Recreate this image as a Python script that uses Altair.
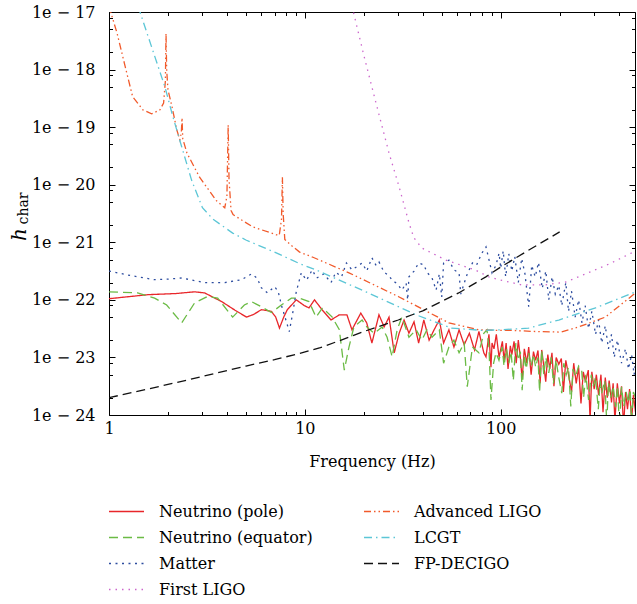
import altair as alt
import pandas as pd

FONT = "DejaVu Serif"
W, H = 526, 403

# ---- data: (frequency Hz, log10 h_char) ----
POLE = [(1.0, -21.98), (1.58, -21.91), (2.2, -21.89), (2.74, -21.86), (3.08, -21.88), (3.76, -22.03),
        (4.4, -22.18), (5.04, -22.30), (5.5, -22.25), (6.0, -22.17), (6.75, -22.20), (7.1, -22.30),
        (7.42, -22.49), (7.8, -22.30), (8.14, -22.17), (9.04, -22.00), (9.94, -22.10), (10.5, -22.14),
        (11.2, -22.00), (12.3, -22.18), (13.6, -22.35), (15.0, -22.26), (16.4, -22.26), (17.4, -22.52),
        (19.3, -22.23), (20.7, -22.40), (22.0, -22.75), (23.9, -22.26), (25.4, -22.47), (26.9, -22.30),
        (28.6, -22.92), (30.3, -22.58), (32.1, -22.35), (34.0, -22.58), (36.1, -22.38), (38.1, -22.75),
        (40.5, -22.35), (43.1, -22.70), (45.7, -22.52), (48.6, -22.35), (51.1, -22.75), (54.4, -22.52),
        (57.7, -22.82), (61.3, -22.52), (65.1, -22.78), (69.2, -22.58), (73.5, -22.87), (77.4, -22.55),
        (82.0, -22.92), (84.1, -22.99), (87.1, -22.60), (89.2, -23.17), (90.3, -22.75), (92.4, -22.85),
        (95.0, -22.60), (98.1, -23.00), (102, -22.72), (104, -23.05), (106.6, -22.75), (109, -23.20),
        (112, -22.80), (114, -22.95), (117, -22.72), (120, -23.10), (123, -22.70), (126, -23.00),
        (128.7, -23.38), (132, -22.85), (136, -23.10), (139, -22.82), (143, -23.30), (147, -22.90),
        (150.8, -23.05), (155, -22.88), (159, -23.45), (162, -22.87), (166, -23.15), (169.8, -23.42),
        (174, -22.95), (178, -23.20), (182.7, -22.92), (187, -23.50), (192, -23.00), (198, -23.12),
        (204, -23.02), (209, -23.60), (215, -23.05), (222, -23.30), (230, -23.60), (236, -23.10),
        (243, -23.45), (250, -23.17), (257, -23.80), (264, -23.25), (271, -23.42), (280, -23.22),
        (286, -24.10), (292, -23.25), (300, -23.55), (308, -23.30), (316, -23.65), (325, -23.30),
        (333, -23.95), (342, -23.35), (350, -23.70), (358, -23.40), (368, -23.78), (375, -23.45),
        (383, -24.10), (394, -23.45), (404, -23.80), (414, -23.50), (424, -24.20), (434, -23.60),
        (444, -23.90), (455, -23.55), (466, -24.10), (476, -23.65), (488, -23.95)]

EQUATOR = [(1.0, -21.86), (1.4, -21.88), (1.71, -21.97), (1.97, -22.09), (2.35, -22.40), (2.74, -22.05),
           (3.19, -21.94), (3.59, -21.97), (4.28, -22.30), (4.91, -22.09), (5.34, -22.03), (6.0, -22.12),
           (6.75, -22.22), (7.59, -22.09), (8.53, -21.97), (9.37, -21.97), (10.5, -22.03), (11.4, -22.30),
           (12.3, -22.14), (13.8, -22.30), (15.0, -22.52), (15.9, -23.22), (16.8, -22.82), (17.8, -22.47),
           (19.6, -22.35), (20.7, -22.47), (22.6, -22.58), (24.8, -22.47), (26.3, -22.65), (27.9, -22.99),
           (29.6, -22.52), (31.3, -22.30), (34.0, -22.65), (37.0, -22.52), (39.6, -22.70), (42.0, -22.52),
           (44.6, -22.65), (48.6, -22.52), (51.1, -23.10), (54.4, -22.82), (57.7, -22.70), (61.3, -22.92),
           (65.1, -22.75), (67.5, -23.51), (71.7, -22.82), (77.4, -22.92), (82.0, -22.58), (85.1, -22.52),
           (87.1, -22.82), (89.2, -23.74), (92.0, -23.10), (94.6, -22.92), (98.0, -23.05), (101.7, -22.82),
           (104, -23.15), (107, -22.85), (110, -23.10), (113, -22.90), (116, -23.40), (119.5, -22.75),
           (123, -23.05), (126, -22.90), (128.7, -23.57), (132, -22.95), (135, -23.20), (139, -22.92),
           (143, -23.15), (147, -22.95), (150.8, -23.17), (155, -23.00), (158, -23.60), (162, -22.87),
           (166, -23.30), (170, -23.00), (176, -23.27), (181, -23.00), (186, -23.45), (191.5, -23.04),
           (198, -23.35), (205, -23.62), (210, -23.10), (216, -23.30), (222, -23.17), (228, -23.85),
           (234, -23.20), (241, -23.34), (250, -23.15), (259, -23.22), (265, -23.70), (272, -23.30),
           (281, -23.74), (290, -23.30), (297, -23.50), (305, -23.34), (315, -23.90), (322, -23.40),
           (328, -23.62), (340, -23.40), (348, -24.15), (355, -23.44), (365, -23.70), (375, -23.50),
           (386, -23.86), (395, -23.50), (404, -24.20), (414, -23.51), (425, -23.85), (437, -23.60),
           (449, -23.79), (458, -23.55), (466, -24.10), (476, -23.60), (488, -23.70)]

MATTER = [(1.0, -21.50), (1.3, -21.58), (1.71, -21.65), (2.0, -21.64), (2.35, -21.62), (3.08, -21.70),
          (3.9, -21.70), (4.75, -21.65), (5.34, -21.55), (5.7, -21.62), (6.0, -21.79), (6.44, -21.88),
          (7.0, -21.77), (7.3, -21.85), (7.59, -22.09), (8.0, -22.35), (8.33, -22.55), (8.7, -22.20),
          (9.04, -21.86), (9.59, -21.53), (10.2, -21.66), (10.9, -21.48), (11.5, -21.62), (12.5, -21.55),
          (13.6, -21.70), (14.4, -21.52), (15.4, -21.60), (16.3, -21.36), (17.4, -21.48), (18.5, -21.42),
          (19.6, -21.36), (20.7, -21.50), (22.0, -21.27), (23.1, -21.40), (23.9, -21.34), (25.4, -21.52),
          (26.9, -21.58), (27.9, -21.66), (29.6, -21.72), (31.3, -21.83), (32.9, -21.71), (33.5, -22.00),
          (34.0, -21.60), (36.1, -21.50), (38.1, -21.36), (40.5, -21.39), (42.0, -21.52), (44.6, -21.62),
          (46.8, -21.83), (48.6, -21.55), (50.0, -21.95), (51.1, -21.36), (54.4, -21.31), (57.7, -21.48),
          (61.3, -21.53), (62.5, -21.90), (65.1, -21.71), (67.5, -21.55), (71.7, -21.36), (75.2, -21.40),
          (80.1, -21.19), (84.1, -21.08), (87.1, -21.30), (90.3, -21.53), (94.6, -21.40), (98.1, -21.19),
          (100, -21.45), (103, -21.15), (106, -21.60), (110, -21.20), (114, -21.50), (118, -21.25),
          (123, -21.70), (128, -21.28), (133, -21.55), (139, -22.12), (144, -21.40), (150, -21.60),
          (156, -21.35), (163, -21.80), (170, -21.50), (176, -22.00), (183, -21.60), (190, -21.90),
          (198, -21.75), (205, -22.10), (215, -21.70), (222, -22.20), (230, -21.85), (240, -22.30),
          (250, -22.00), (260, -22.40), (270, -22.10), (281, -22.50), (292, -22.20), (305, -22.60),
          (316, -22.35), (328, -22.75), (342, -22.45), (355, -22.85), (368, -22.60), (380, -23.00),
          (394, -22.70), (414, -23.10), (434, -22.85), (449, -23.20), (466, -22.95), (480, -23.30),
          (488, -23.10)]

FIRST_LIGO = [(17.5, -16.9), (17.7, -17.0), (20, -17.75), (23, -18.56), (26.9, -19.45), (30.3, -20.04),
              (34, -20.66), (36, -20.92), (39.6, -21.10), (46.5, -21.22), (52.5, -21.31), (74, -21.48),
              (87, -21.60), (98, -21.65), (128, -21.74), (169, -21.74), (215, -21.69), (280, -21.53),
              (367, -21.36), (488, -21.15)]

ADV_LIGO = [(1.0, -16.9), (1.1, -17.37), (1.21, -17.95), (1.32, -18.47), (1.49, -18.70), (1.65, -18.77),
            (1.82, -18.70), (1.9, -18.58), (1.94, -18.2), (1.955, -17.37), (1.97, -18.0), (2.0, -18.35),
            (2.09, -18.62), (2.22, -19.05), (2.30, -19.22), (2.34, -19.1), (2.36, -18.84), (2.38, -19.2),
            (2.5, -19.45), (2.9, -19.87), (3.54, -20.28), (3.9, -20.40), (4.0, -20.2), (4.06, -18.96),
            (4.1, -19.9), (4.2, -20.45), (4.3, -20.52), (5.4, -20.73), (7.16, -20.87), (7.4, -20.88),
            (7.6, -20.6), (7.68, -19.87), (7.75, -20.5), (7.9, -20.95), (8.5, -21.05), (9.4, -21.17),
            (11.0, -21.26), (16.8, -21.53), (30.3, -21.95), (54.4, -22.40), (77.0, -22.52), (98.0, -22.53),
            (114, -22.53), (150, -22.55), (204, -22.56), (250, -22.47), (342, -22.30), (488, -21.88)]

LCGT = [(1.4, -16.9), (1.44, -17.0), (1.67, -17.66), (1.93, -18.30), (2.12, -18.82), (2.35, -19.34),
        (2.64, -19.92), (3.0, -20.40), (3.4, -20.60), (4.28, -20.84), (5.0, -20.96), (7.1, -21.18),
        (9.4, -21.37), (11.4, -21.48), (20.5, -21.86), (37, -22.26), (56, -22.49), (80, -22.53),
        (100, -22.52), (139, -22.49), (198, -22.35), (305, -22.14), (488, -21.86)]

FP_DECIGO = [(1, -23.70), (2, -23.47), (3, -23.33), (5, -23.15), (7, -23.04), (9.4, -22.93), (12, -22.83),
             (15, -22.71), (20, -22.55), (30, -22.35), (40, -22.19), (61, -21.88), (84, -21.60),
             (100, -21.43), (140, -21.13), (200, -20.82)]

SERIES = [("Neutrino (pole)", POLE), ("Neutrino (equator)", EQUATOR), ("Matter", MATTER),
          ("First LIGO", FIRST_LIGO), ("Advanced LIGO", ADV_LIGO), ("LCGT", LCGT), ("FP-DECIGO", FP_DECIGO)]

LEGEND_ORDER = [name for name, _ in SERIES]
COLORS = {"Neutrino (pole)": "#e8262a", "Neutrino (equator)": "#6bbb45", "Matter": "#2c4c9f",
          "First LIGO": "#cc66cc", "Advanced LIGO": "#f15a2b", "LCGT": "#5cc6d6", "FP-DECIGO": "#111111"}
DASHES = {"Neutrino (pole)": [1, 0], "Neutrino (equator)": [9, 5], "Matter": [2, 4.5],
          "First LIGO": [1.5, 5], "Advanced LIGO": [7, 3, 1.5, 3, 1.5, 3], "LCGT": [8, 4, 1.5, 4],
          "FP-DECIGO": [9, 5]}

X_LABEL_TICKS = [1, 10, 100]
X_ALL_TICKS = [1, 2, 3, 4, 5, 6, 7, 8, 9, 10, 20, 30, 40, 50, 60, 70, 80, 90, 100, 200, 300, 400]
Y_LABEL_TICKS = [1e-24, 1e-23, 1e-22, 1e-21, 1e-20, 1e-19, 1e-18, 1e-17]
Y_ALL_TICKS = [m * d for d in Y_LABEL_TICKS[:-1] for m in (1, 2, 5, 8)] + [1e-17]

rows = []
for name, pts in SERIES:
    for f, lv in pts:
        rows.append({"series": name, "f": f, "h": 10.0 ** lv})
df = pd.DataFrame(rows)

xscale = alt.Scale(type="log", domain=[1, 485], nice=False)
yscale = alt.Scale(type="log", domain=[1e-24, 1e-17], nice=False)

x_major_test = "datum.value == 1 || datum.value == 10 || datum.value == 100"
y_major_test = "abs(log(datum.value)/LN10 - round(log(datum.value)/LN10)) < 0.001"
x_tick_size = {"condition": {"test": x_major_test, "value": 6}, "value": 3.5}
y_tick_size = {"condition": {"test": y_major_test, "value": 6}, "value": 3.5}

LBL = 16

legend = alt.Legend(orient="none", legendX=-1, legendY=490, columns=2, symbolType="stroke",
                    symbolSize=1225, symbolStrokeWidth=1.4, labelFont=FONT, labelFontSize=LBL,
                    labelColor="black", labelOffset=14, labelLimit=300, rowPadding=7,
                    columnPadding=50, clipHeight=19, padding=0)

base = alt.Chart(df)

lines = base.mark_line(clip=True, strokeWidth=1.3).encode(
    x=alt.X("f:Q", scale=xscale, title="Frequency (Hz)",
            axis=alt.Axis(orient="bottom", values=X_LABEL_TICKS, ticks=False, tickSize=0, domain=False,
                          grid=False, format="d", labelFont=FONT, labelFontSize=LBL, labelColor="black",
                          labelPadding=5, labelFlush=False, labelOverlap=False, titleFont=FONT,
                          titleFontSize=LBL, titleFontWeight="normal", titleColor="black", titlePadding=17)),
    y=alt.Y("h:Q", scale=yscale, title="h",
            axis=alt.Axis(orient="left", values=Y_LABEL_TICKS, ticks=False, tickSize=0, domain=False,
                          grid=False, labelExpr="'1e − ' + round(-log(datum.value)/LN10)",
                          labelFont=FONT, labelFontSize=LBL, labelColor="black", labelPadding=14,
                          labelFlush=False, labelOverlap=False, titleFont=FONT, titleFontSize=20,
                          titleFontStyle="italic", titleFontWeight="normal", titleColor="black",
                          titleAngle=270, titleAlign="center", titleBaseline="alphabetic",
                          titleX=-84, titleY=222)),
    color=alt.Color("series:N", title=None,
                    scale=alt.Scale(domain=LEGEND_ORDER, range=[COLORS[s] for s in LEGEND_ORDER]),
                    legend=legend),
    strokeDash=alt.StrokeDash("series:N", title=None,
                              scale=alt.Scale(domain=LEGEND_ORDER, range=[DASHES[s] for s in LEGEND_ORDER]),
                              legend=legend),
)

ticks_inner_a = base.mark_point(opacity=0, size=1).encode(
    x=alt.X("f:Q", scale=xscale, title=None,
            axis=alt.Axis(orient="top", offset=-H, values=X_ALL_TICKS, labels=False, domain=False,
                          grid=False, ticks=True, tickSize=x_tick_size, tickColor="black", tickWidth=1)),
    y=alt.Y("h:Q", scale=yscale, title="char",
            axis=alt.Axis(orient="right", offset=-W, values=Y_ALL_TICKS, labels=False, domain=False,
                          grid=False, ticks=True, tickSize=y_tick_size, tickColor="black", tickWidth=1,
                          titleFont=FONT, titleFontSize=14, titleFontWeight="normal", titleColor="black",
                          titleAngle=270, titleAlign="center", titleBaseline="alphabetic",
                          titleX=-82, titleY=196)),
)

ticks_inner_b = base.mark_point(opacity=0, size=1).encode(
    x=alt.X("f:Q", scale=xscale, title=None,
            axis=alt.Axis(orient="bottom", offset=-H, values=X_ALL_TICKS, labels=False, domain=False,
                          grid=False, ticks=True, tickSize=x_tick_size, tickColor="black", tickWidth=1)),
    y=alt.Y("h:Q", scale=yscale, title=None,
            axis=alt.Axis(orient="left", offset=-W, values=Y_ALL_TICKS, labels=False, domain=False,
                          grid=False, ticks=True, tickSize=y_tick_size, tickColor="black", tickWidth=1)),
)

chart = alt.layer(lines, ticks_inner_a, ticks_inner_b).resolve_axis(
    x="independent", y="independent"
).properties(
    width=W, height=H,
    padding={"left": 109, "top": 12, "right": 2, "bottom": 189},
    autosize=alt.AutoSizeParams(type="none"),
    background="white",
).configure_view(stroke="black", strokeWidth=1)

chart.save("out.html", embed_options={"renderer": "svg", "actions": False})
